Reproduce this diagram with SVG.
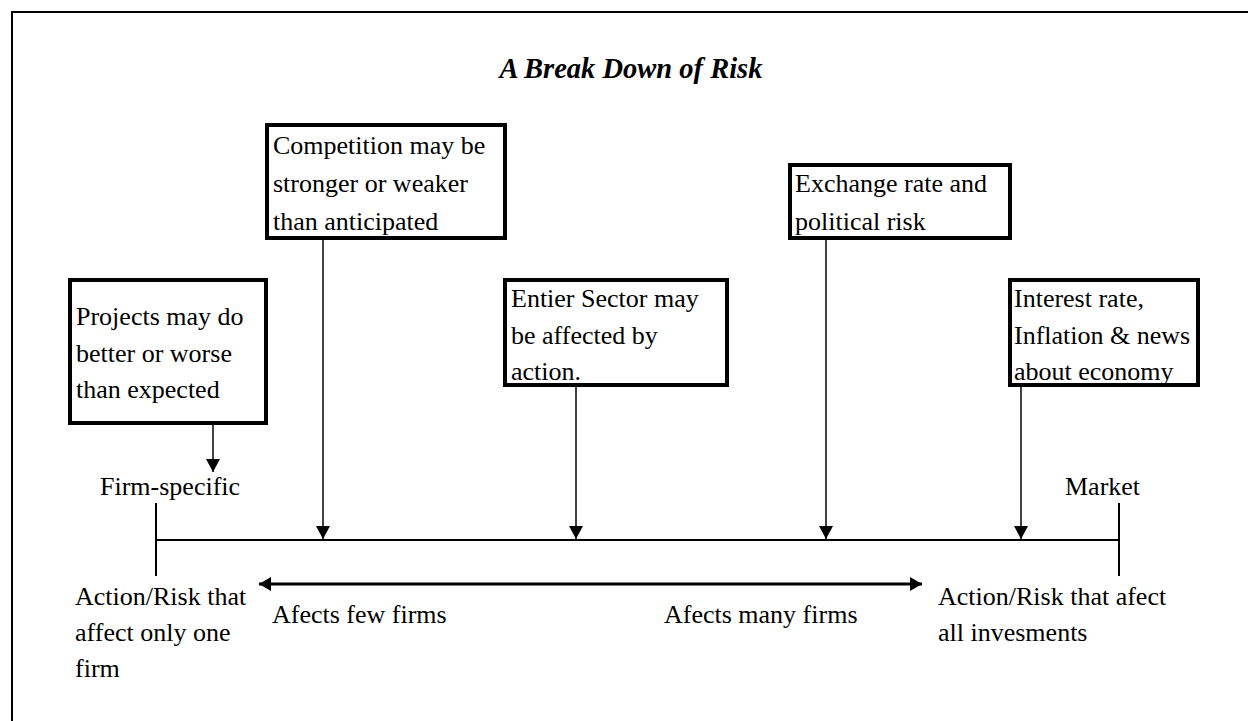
<svg xmlns="http://www.w3.org/2000/svg" width="1248" height="721" viewBox="0 0 1248 721">
<defs>
<style>
.t{font-family:"Liberation Serif","Times New Roman",serif;font-size:26px;fill:#000}
.title{font-family:"Liberation Serif","Times New Roman",serif;font-size:28.5px;font-weight:bold;font-style:italic;fill:#000}
.box{fill:#fff;stroke:#000;stroke-width:4}
.conn{stroke:#000;stroke-width:1.5;fill:none}
.axis{stroke:#000;stroke-width:2;fill:none}
.dbl{stroke:#000;stroke-width:3;fill:none}
</style>
<marker id="ah" markerUnits="userSpaceOnUse" markerWidth="15" markerHeight="15" refX="13" refY="7" orient="auto">
<path d="M0,0 L13,7 L0,14 z" fill="#000"/>
</marker>
<marker id="ah2" markerUnits="userSpaceOnUse" markerWidth="15" markerHeight="15" refX="12" refY="7" orient="auto-start-reverse">
<path d="M0,0 L12,7 L0,14 z" fill="#000"/>
</marker>
</defs>
<rect width="1248" height="721" fill="#fff"/>
<rect x="12" y="12" width="1262" height="730" fill="none" stroke="#000" stroke-width="2"/>
<text class="title" x="631" y="78" text-anchor="middle">A Break Down of Risk</text>

<g id="connectors">
<line class="conn" x1="213" y1="425" x2="213" y2="472" marker-end="url(#ah)"/>
<line class="conn" x1="323" y1="240" x2="323" y2="539" marker-end="url(#ah)"/>
<line class="conn" x1="576" y1="387" x2="576" y2="539" marker-end="url(#ah)"/>
<line class="conn" x1="826" y1="240" x2="826" y2="539" marker-end="url(#ah)"/>
<line class="conn" x1="1021" y1="387" x2="1021" y2="539" marker-end="url(#ah)"/>
<line class="axis" x1="156" y1="540" x2="1119" y2="540"/>
<line class="axis" x1="156" y1="503" x2="156" y2="576"/>
<line class="axis" x1="1119" y1="503" x2="1119" y2="576"/>
<line class="dbl" x1="259" y1="584" x2="922" y2="584" marker-start="url(#ah2)" marker-end="url(#ah2)"/>
</g>

<g id="competition">
<rect class="box" x="267" y="125" width="238" height="113"/>
<text class="t" x="273" y="154">Competition may be</text>
<text class="t" x="273" y="192">stronger or weaker</text>
<text class="t" x="273" y="230">than anticipated</text>
</g>
<g id="exchange">
<rect class="box" x="790" y="165" width="220" height="73"/>
<text class="t" x="795" y="192">Exchange rate and</text>
<text class="t" x="795" y="230">political risk</text>
</g>
<g id="projects">
<rect class="box" x="70" y="280" width="196" height="143"/>
<text class="t" x="76" y="325">Projects may do</text>
<text class="t" x="76" y="362">better or worse</text>
<text class="t" x="76" y="398">than expected</text>
</g>
<g id="sector">
<rect class="box" x="505" y="280" width="222" height="105"/>
<text class="t" x="511" y="307">Entier Sector may</text>
<text class="t" x="511" y="344">be affected by</text>
<text class="t" x="511" y="380">action.</text>
</g>
<g id="interest">
<rect class="box" x="1010" y="280" width="188" height="105"/>
<text class="t" x="1014" y="307">Interest rate,</text>
<text class="t" x="1014" y="344">Inflation &amp; news</text>
<text class="t" x="1014" y="380">about economy</text>
</g>

<g id="firm-specific"><text class="t" x="100" y="495">Firm-specific</text></g>
<g id="market"><text class="t" x="1065" y="495">Market</text></g>
<g id="left-label">
<text class="t" x="75" y="605">Action/Risk that</text>
<text class="t" x="75" y="641">affect only one</text>
<text class="t" x="75" y="677">firm</text>
</g>
<g id="few"><text class="t" x="272" y="623">Afects few firms</text></g>
<g id="many"><text class="t" x="664" y="623">Afects many firms</text></g>
<g id="right-label">
<text class="t" x="938" y="605">Action/Risk that afect</text>
<text class="t" x="938" y="641">all invesments</text>
</g>
</svg>
